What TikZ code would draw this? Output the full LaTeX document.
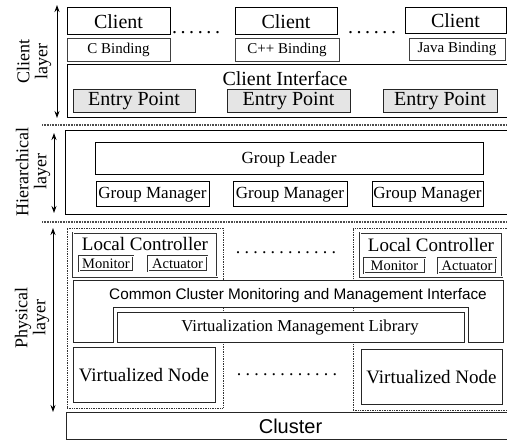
\documentclass[tikz,border=0pt]{standalone}
\usepackage{fontspec}
\setmainfont{Liberation Serif}
\setsansfont{Liberation Sans}
\usetikzlibrary{arrows.meta}
\newcommand\bx[7]{\node[#1, minimum width={(#5-#3)*1pt}, minimum height={(#6-#4)*1pt}] (#2) at ({(#3+#5)/2},{(#4+#6)/2}) {#7};}
\newcommand\fs[1]{\fontsize{#1}{#1}\selectfont}
\def\dd{.\kern3.6pt}
\def\de{.\kern4.2pt}
\begin{document}
\begin{tikzpicture}[x=1pt,y=-1pt,
  base/.style={rectangle, inner sep=0pt, outer sep=0pt},
  clientbox/.style={base, draw, line width=1pt, font=\fs{20}},
  bindbox/.style={base, draw=black!75, line width=0.9pt, font=\fs{15}},
  entrybox/.style={base, draw=black!85, fill=black!10, line width=1pt, font=\fs{20}},
  outerbox/.style={base, draw, line width=1pt},
  glbox/.style={base, draw, line width=1pt, font=\fs{17}},
  gmbox/.style={base, draw, line width=1pt, font=\fs{17}},
  lcbox/.style={base, draw=black!80, double, double distance=1pt, line width=0.6pt},
  monbox/.style={base, draw=black!80, double, double distance=0.8pt, line width=0.5pt, font=\fs{14.5}},
  vnbox/.style={base, draw=black!85, fill=white, line width=1pt, font=\fs{19}},
  vmlbox/.style={base, draw=black!85, fill=white, line width=1pt},
  clusterbox/.style={base, draw=black!85, line width=1pt, font=\sffamily\fs{20}},
  dotbox/.style={base, draw=black!80, densely dotted, line width=0.7pt},
  sepline/.style={draw=black!70, line width=1.6pt, dash pattern=on 0.8pt off 0.8pt},
  layerarrow/.style={{Stealth[length=7pt,width=5pt]}-{Stealth[length=7pt,width=5pt]}, line width=0.9pt},
  layerlabel/.style={rotate=90, align=center, font=\fs{18}, inner sep=0pt},
  dots/.style={inner sep=0pt, font=\fs{20}}
]
\clip (0,0) rectangle (507,443);
\fill[white] (0,0) rectangle (507,443);

% ---------- Client layer ----------
\bx{clientbox}{c1}{67}{8}{170}{35}{Client}
\bx{clientbox}{c2}{235}{8}{337}{35}{Client}
\bx{clientbox}{c3}{405}{8}{506}{34}{Client}
\bx{bindbox}{b1}{67}{38}{170}{61}{C Binding}
\bx{bindbox}{b2}{235}{38}{339}{61}{C++ Binding}
\bx{bindbox}{b3}{409}{38}{505}{60}{Java Binding}
\node[dots] (d1) at (196,33) {\dd\dd\dd\dd\dd.};
\node[dots] (d2) at (372,33) {\dd\dd\dd\dd\dd.};
\bx{outerbox}{ci}{67}{65}{515}{118}{}
\node[inner sep=0pt, font=\fs{20}] (citext) at (285,79) {Client Interface};
\bx{entrybox}{e1}{73}{90}{195}{113}{Entry Point}
\bx{entrybox}{e2}{227}{90}{350}{113}{Entry Point}
\bx{entrybox}{e3}{383}{90}{497}{113}{Entry Point}
\coordinate (ca1) at (57,5);
\coordinate (ca2) at (57,118);
\draw[layerarrow] (ca1) -- (ca2);
\node[layerlabel] (cl) at (34,62) {Client\\layer};

\draw[sepline] (42,125) -- (507,125);

% ---------- Hierarchical layer ----------
\bx{outerbox}{ho}{65}{131}{515}{215}{}
\bx{glbox}{gl}{95}{143}{483}{175}{Group Leader}
\bx{gmbox}{gm1}{96}{182}{209}{207}{Group Manager}
\bx{gmbox}{gm2}{233}{182}{347}{207}{Group Manager}
\bx{gmbox}{gm3}{372}{182}{483}{207}{Group Manager}
\coordinate (ha1) at (54,133);
\coordinate (ha2) at (54,213);
\draw[layerarrow] (ha1) -- (ha2);
\node[layerlabel] (hl) at (33,172) {Hierarchical\\layer};

\draw[sepline] (42,222) -- (507,222);

% ---------- Physical layer ----------
\bx{dotbox}{pl}{67}{228}{223}{408}{}
\bx{dotbox}{pr}{353}{228}{515}{410}{}
\bx{lcbox}{lc1}{73}{233}{217}{277}{}
\node[inner sep=0pt, font=\fs{19}] (lc1t) at (145,244) {Local Controller};
\bx{monbox}{m1}{79}{256}{133}{271}{Monitor}
\bx{monbox}{a1}{148}{256}{207}{271}{Actuator}
\bx{lcbox}{lc2}{360}{233}{502}{277}{}
\node[inner sep=0pt, font=\fs{19}] (lc2t) at (431,245) {Local Controller};
\bx{monbox}{m2}{364}{258}{425}{273}{Monitor}
\bx{monbox}{a2}{438}{258}{496}{273}{Actuator}
\node[dots, font=\fs{18}] (d3) at (286,253) {\de\de\de\de\de\de\de\de\de\de\de.};

\filldraw[fill=white, draw=black!85, line width=1pt] (73,281) -- (503,281) -- (503,343) -- (468,343) -- (468,308) -- (113,308) -- (113,343) -- (73,343) -- cycle;
\node[inner sep=0pt, font=\sffamily\fs{15.3}] (ccmi) at (298,296) {Common Cluster Monitoring and Management Interface};
\bx{vmlbox}{vml}{117}{313}{464}{343}{}
\node[inner sep=0pt, font=\fs{16.7}] (vmlt) at (300,328) {Virtualization Management Library};

\bx{vnbox}{vn1}{73}{348}{215}{403}{Virtualized Node}
\bx{vnbox}{vn2}{361}{350}{502}{405}{Virtualized Node}
\node[dots, font=\fs{18}] (d4) at (287,375) {\de\de\de\de\de\de\de\de\de\de\de.};

\bx{clusterbox}{cl}{66}{413}{515}{440}{Cluster}

\coordinate (pa1) at (53,228);
\coordinate (pa2) at (53,412);
\draw[layerarrow] (pa1) -- (pa2);
\node[layerlabel] (phl) at (32,318) {Physical\\layer};
\end{tikzpicture}
\end{document}
